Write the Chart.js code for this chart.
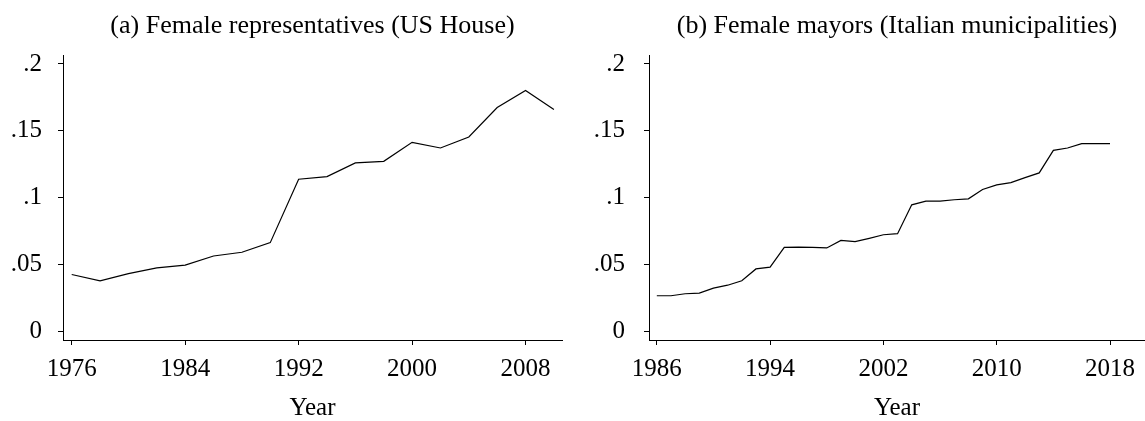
<!DOCTYPE html>
<html>
<head>
<meta charset="utf-8">
<script src="https://cdn.jsdelivr.net/npm/chart.js@4"></script>
<style>
  body { margin: 0; background: #fff; }
  #wrap { position: relative; width: 1145px; height: 421px; }
  canvas { position: absolute; top: 0; }
  #chartA { left: 0; }
  #chartB { left: 572px; }
</style>
</head>
<body>
<div id="wrap">
  <canvas id="chartA" width="572" height="421"></canvas>
  <canvas id="chartB" width="573" height="421"></canvas>
</div>
<script>
// (a) US House, every two years
const houseYears = [1976, 1978, 1980, 1982, 1984, 1986, 1988, 1990, 1992,
  1994, 1996, 1998, 2000, 2002, 2004, 2006, 2008, 2010];
const houseShare = [0.0423, 0.0376, 0.0430, 0.0473, 0.0493, 0.0562, 0.0590, 0.0662, 0.1137,
  0.1157, 0.1259, 0.1271, 0.1413, 0.1371, 0.1453, 0.1674, 0.1801, 0.1659];

// (b) Italian municipalities, yearly
const mayorYears = [1986, 1987, 1988, 1989, 1990, 1991, 1992, 1993, 1994, 1995, 1996,
  1997, 1998, 1999, 2000, 2001, 2002, 2003, 2004, 2005, 2006, 2007, 2008, 2009, 2010,
  2011, 2012, 2013, 2014, 2015, 2016, 2017, 2018];
const mayorShare = [0.0264, 0.0264, 0.0279, 0.0284, 0.0321, 0.0343, 0.0376, 0.0465, 0.0478,
  0.0627, 0.0629, 0.0627, 0.0622, 0.0679, 0.0669, 0.0694, 0.0721, 0.0729, 0.0945, 0.0973,
  0.0973, 0.0983, 0.0990, 0.1060, 0.1095, 0.1112, 0.1149, 0.1184, 0.1353, 0.1371, 0.1403,
  0.1403, 0.1403];

const houseTicks = [1976, 1984, 1992, 2000, 2008];
const mayorTicks = [1986, 1994, 2002, 2010, 2018];
const shareTicks = [0, 0.05, 0.1, 0.15, 0.2];
const shareLabels = ["0", ".05", ".1", ".15", ".2"];

const FONT = '"Liberation Serif", "Times New Roman", serif';

// title centred over the plot area, like Stata's subtitle
const panelTitle = {
  id: "panelTitle",
  afterDraw(chart, args, opts) {
    const { ctx, chartArea } = chart;
    ctx.save();
    ctx.font = "26px " + FONT;
    ctx.fillStyle = "#000";
    ctx.textAlign = "center";
    ctx.textBaseline = "middle";
    ctx.fillText(opts.text, (chartArea.left + chartArea.right) / 2, 26);
    ctx.restore();
  }
};

function makePanel(canvasId, title, years, share, xTicks, xMin, xMax, yWidth, yPad, padRight) {
  return new Chart(document.getElementById(canvasId), {
    type: "line",
    data: {
      datasets: [{
        data: years.map((x, i) => ({ x: x, y: share[i] })),
        borderColor: "#000",
        borderWidth: 1.2,
        pointRadius: 0,
        tension: 0,
        fill: false
      }]
    },
    options: {
      responsive: false,
      animation: false,
      layout: { padding: { top: 55, left: 0, right: padRight, bottom: 0 } },
      plugins: {
        legend: { display: false },
        tooltip: { enabled: false },
        panelTitle: { text: title }
      },
      scales: {
        x: {
          type: "linear",
          min: xMin,
          max: xMax,
          afterFit(scale) { scale.height = 81; },
          afterBuildTicks(scale) { scale.ticks = xTicks.map(v => ({ value: v })); },
          grid: { drawOnChartArea: false, tickLength: 5, color: "#000" },
          border: { color: "#000", width: 1 },
          ticks: {
            padding: 9,
            color: "#000",
            font: { family: FONT, size: 25 },
            maxRotation: 0,
            callback: v => String(v)
          },
          title: {
            display: true,
            text: "Year",
            color: "#000",
            font: { family: FONT, size: 25 },
            padding: { top: 0, bottom: -2 }
          }
        },
        y: {
          min: -0.00674,
          max: 0.20674,
          afterFit(scale) { scale.width = yWidth; },
          afterBuildTicks(scale) { scale.ticks = shareTicks.map(v => ({ value: v })); },
          grid: { drawOnChartArea: false, tickLength: 5, color: "#000" },
          border: { color: "#000", width: 1 },
          ticks: {
            padding: yPad,
            color: "#000",
            font: { family: FONT, size: 25 },
            callback: v => shareLabels[shareTicks.indexOf(v)]
          }
        }
      }
    },
    plugins: [panelTitle]
  });
}

makePanel("chartA", "(a) Female representatives (US House)",
  houseYears, houseShare, houseTicks, 1975.386, 2010.57, 63, 16, 10);
makePanel("chartB", "(b) Female mayors (Italian municipalities)",
  mayorYears, mayorShare, mayorTicks, 1985.449, 2020.47, 77, 19, 0);
</script>
</body>
</html>
